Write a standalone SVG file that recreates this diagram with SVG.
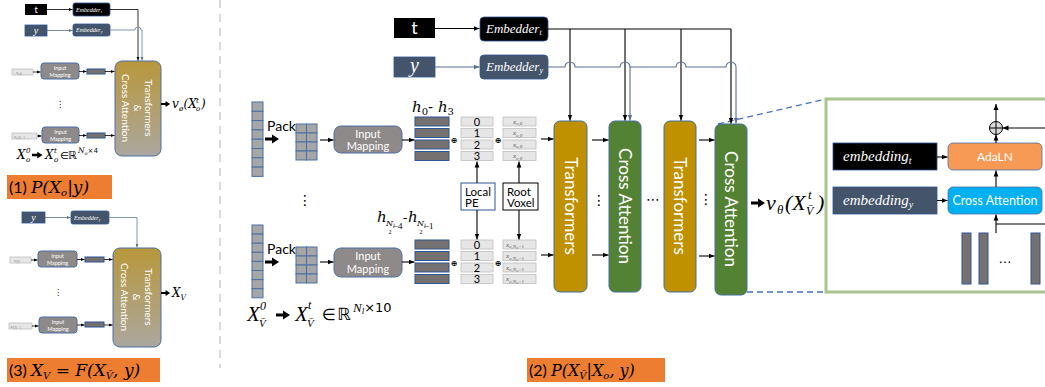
<svg xmlns="http://www.w3.org/2000/svg" xmlns:xlink="http://www.w3.org/1999/xlink" width="1045" height="387" viewBox="0 0 1045 387">
<style>
.sans{font-family:Lato,"Liberation Sans",sans-serif}
.mi{font-family:"Liberation Serif","DejaVu Serif",serif;font-style:italic}
.mw{font-family:"DejaVu Serif","Liberation Serif",serif;font-style:italic}
.mn{font-family:"Liberation Serif","DejaVu Serif",serif}
.mr{font-family:"DejaVu Sans",sans-serif}
.wt{fill:#fff}
.con{fill:none;stroke:#000;stroke-width:1.1}
.conb{fill:none;stroke:#5A6F8F;stroke-width:1.1}
.cons{fill:none;stroke:#000;stroke-width:0.8}
.im{fill:#8F8A8A;stroke:#4A6FA5;stroke-width:1}
.bar{fill:#767171;stroke:#2F5597;stroke-width:1}
.xb{fill:#E7E6E6;stroke:#BFBFBF;stroke-width:0.8}
.cell{fill:#A6A6A6;stroke:#4A6FA5;stroke-width:1}
.blk{stroke:#41719C;stroke-width:1}
.big{fill:url(#gold);stroke:#4A6FA5;stroke-width:1}
.orange{fill:#ED7D31}
.ytile{fill:#44546A;stroke:#2F5597;stroke-width:0.8}
.ttile{fill:#000;stroke:#2F5597;stroke-width:0.8}
</style>
<defs>
<linearGradient id="gold" x1="0" y1="0" x2="0" y2="1">
<stop offset="0" stop-color="#B8973B"/>
<stop offset="1" stop-color="#ABA79F"/>
</linearGradient>
<marker id="ah" viewBox="0 0 10 10" refX="10" refY="5" markerWidth="6" markerHeight="6" markerUnits="userSpaceOnUse" orient="auto"><path d="M0,1 L10,5 L0,9 Z" fill="#000"/></marker>
<marker id="ahb" viewBox="0 0 10 10" refX="10" refY="5" markerWidth="6" markerHeight="6" markerUnits="userSpaceOnUse" orient="auto"><path d="M0,1 L10,5 L0,9 Z" fill="#5A6F8F"/></marker>
<marker id="ahs" viewBox="0 0 10 10" refX="10" refY="5" markerWidth="3.5" markerHeight="3.5" markerUnits="userSpaceOnUse" orient="auto"><path d="M0,1 L10,5 L0,9 Z" fill="#000"/></marker>
<marker id="ahsb" viewBox="0 0 10 10" refX="10" refY="5" markerWidth="3.5" markerHeight="3.5" markerUnits="userSpaceOnUse" orient="auto"><path d="M0,1 L10,5 L0,9 Z" fill="#5A6F8F"/></marker>
<path id="tk" d="M0,-1.6 H7 V-4.5 L14,0 L7,4.5 V1.6 H0 Z" fill="#000"/>
</defs>
<rect width="1045" height="387" fill="#fff"/>

<!-- separator -->
<line x1="220" y1="0" x2="220" y2="368" stroke="#D9D9D9" stroke-width="2" stroke-dasharray="8,6"/>

<!-- ============ PANEL 1 ============ -->
<g id="p1-t"><rect x="25" y="4" width="22" height="11" fill="#000"/><text x="36" y="13" class="sans wt" font-size="9" text-anchor="middle">t</text></g>
<g id="p1-embt"><rect x="73" y="3" width="37" height="13" rx="2" class="ttile"/><text x="76" y="11.5" class="mi wt" font-size="6">Embedder<tspan font-size="4" dy="1">t</tspan></text></g>
<g id="p1-y"><rect x="25" y="25" width="22" height="11" class="ytile"/><text x="36" y="34" class="mi wt" font-size="10" text-anchor="middle">y</text></g>
<g id="p1-emby"><rect x="73" y="24" width="37" height="12" rx="2" class="ytile"/><text x="76" y="32" class="mi wt" font-size="6">Embedder<tspan font-size="4" dy="1">y</tspan></text></g>
<g id="p1-x0"><rect x="12" y="69" width="21" height="6" class="xb"/><text x="16" y="73.5" class="mi" fill="#7F7F7F" font-size="4.5">x<tspan font-size="3" dy="1">o,0</tspan></text></g>
<g id="p1-im0"><rect x="41" y="63" width="38" height="16" rx="3" class="im"/><text x="60" y="70" class="sans wt" font-size="5.5" text-anchor="middle">Input</text><text x="60" y="76.5" class="sans wt" font-size="5.5" text-anchor="middle">Mapping</text></g>
<g id="p1-bar0"><rect x="87" y="69" width="18" height="5" class="bar"/></g>
<g id="p1-xn"><rect x="12" y="133" width="25" height="6" class="xb"/><text x="14" y="137.5" class="mi" fill="#7F7F7F" font-size="4.5">x<tspan font-size="3" dy="1">o,N</tspan><tspan font-size="2.5" dy="0.6">o</tspan><tspan font-size="3" dy="-0.6">−1</tspan></text></g>
<g id="p1-imn"><rect x="42" y="127" width="37" height="16" rx="3" class="im"/><text x="60.5" y="134" class="sans wt" font-size="5.5" text-anchor="middle">Input</text><text x="60.5" y="140.5" class="sans wt" font-size="5.5" text-anchor="middle">Mapping</text></g>
<g id="p1-barn"><rect x="87" y="133" width="18" height="5" class="bar"/></g>
<text x="60" y="107" class="mr" font-size="8" text-anchor="middle">⋮</text>
<g id="p1-big"><rect x="115" y="61" width="46" height="95" rx="7" class="big"/>
<text transform="translate(145,108) rotate(90)" class="sans wt" font-size="10" text-anchor="middle">Transformers</text>
<text transform="translate(133.5,108) rotate(90)" class="sans wt" font-size="10" text-anchor="middle">&amp;</text>
<text transform="translate(121.5,108) rotate(90)" class="sans wt" font-size="10" text-anchor="middle">Cross Attention</text></g>
<use href="#tk" transform="translate(161,104) scale(0.65)"/>
<g id="p1-out">
<text x="172" y="108" class="mw" font-size="12">v</text>
<text x="179" y="110.5" class="mw" font-size="7">ø</text>
<text x="183.5" y="108" class="mw" font-size="12">(X</text>
<text x="196" y="102.5" class="mw" font-size="7">t</text>
<text x="196" y="111" class="mw" font-size="7">o</text>
<text x="201" y="108" class="mw" font-size="12">)</text>
</g>
<!-- formula 1 -->
<g id="p1-formula">
<text x="17" y="158.5" class="mw" font-size="12">X</text>
<text x="26" y="153" class="mw" font-size="7">0</text>
<text x="26" y="161.5" class="mw" font-size="7">o</text>
<use href="#tk" transform="translate(32,155) scale(0.75)"/>
<text x="45" y="158.5" class="mw" font-size="12">X</text>
<text x="54" y="153" class="mw" font-size="7">t</text>
<text x="54" y="161.5" class="mw" font-size="7">o</text>
<text x="60" y="158.5" class="mr" font-size="10">∈</text>
<text x="68" y="158.5" class="mr" font-size="11">ℝ</text>
<text x="78" y="153" class="mw" font-size="7.5">N<tspan font-size="5" dy="1.5">o</tspan><tspan class="mr" font-style="normal" dy="-1.5" font-size="7">×4</tspan></text>
</g>
<g id="p1-label"><rect x="7" y="175" width="105" height="24" class="orange"/>
<text x="9" y="193" class="sans" font-size="16">(1) <tspan class="mw" font-size="17">P(X<tspan font-size="10" dy="3">o</tspan><tspan dy="-3">|y)</tspan></tspan></text></g>

<!-- ============ PANEL 3 ============ -->
<g id="p3-y"><rect x="22" y="212" width="23" height="11" class="ytile"/><text x="33.5" y="221" class="mi wt" font-size="10" text-anchor="middle">y</text></g>
<g id="p3-emby"><rect x="71" y="211" width="38" height="13" rx="2" class="ytile"/><text x="74" y="219.5" class="mi wt" font-size="6">Embedder<tspan font-size="4" dy="1">y</tspan></text></g>
<g id="p3-x0"><rect x="10" y="257" width="21" height="6" class="xb"/><text x="14" y="261.5" class="mi" fill="#7F7F7F" font-size="4.5">x<tspan font-size="3" dy="1">V̄,0</tspan></text></g>
<g id="p3-im0"><rect x="38" y="251" width="39" height="16" rx="3" class="im"/><text x="57.5" y="258" class="sans wt" font-size="5.5" text-anchor="middle">Input</text><text x="57.5" y="264.5" class="sans wt" font-size="5.5" text-anchor="middle">Mapping</text></g>
<g id="p3-bar0"><rect x="85" y="257" width="19" height="5" class="bar"/></g>
<g id="p3-xn"><rect x="9" y="323" width="23" height="6" class="xb"/><text x="10.5" y="327.5" class="mi" fill="#7F7F7F" font-size="4.5">x<tspan font-size="3" dy="1">V̄,N</tspan><tspan font-size="2.5" dy="0.6">l</tspan><tspan font-size="3" dy="-0.6">−1</tspan></text></g>
<g id="p3-imn"><rect x="39" y="317" width="38" height="16" rx="3" class="im"/><text x="58" y="324" class="sans wt" font-size="5.5" text-anchor="middle">Input</text><text x="58" y="330.5" class="sans wt" font-size="5.5" text-anchor="middle">Mapping</text></g>
<g id="p3-barn"><rect x="85" y="322" width="19" height="5" class="bar"/></g>
<text x="58" y="295" class="mr" font-size="8" text-anchor="middle">⋮</text>
<g id="p3-big"><rect x="113" y="248" width="48" height="99" rx="7" class="big"/>
<text transform="translate(144.5,297) rotate(90)" class="sans wt" font-size="10" text-anchor="middle">Transformers</text>
<text transform="translate(133,297) rotate(90)" class="sans wt" font-size="10" text-anchor="middle">&amp;</text>
<text transform="translate(120.5,297) rotate(90)" class="sans wt" font-size="10" text-anchor="middle">Cross Attention</text></g>
<use href="#tk" transform="translate(161,293) scale(0.65)"/>
<text x="172" y="297" class="mw" font-size="12">X<tspan font-size="7.5" dy="2.5">V</tspan></text>
<g id="p3-label"><rect x="7" y="358" width="153" height="24" class="orange"/>
<text x="9" y="376" class="sans" font-size="16">(3) <tspan class="mw" font-size="17">X<tspan font-size="10" dy="3">V</tspan><tspan dy="-3" font-style="normal"> = </tspan>F(X<tspan font-size="10" dy="3">V̄</tspan><tspan dy="-3">, y)</tspan></tspan></text></g>

<!-- ============ PANEL 2 ============ -->
<g id="c-t"><rect x="394" y="18" width="41" height="20" fill="#000"/><text x="414.5" y="34" class="sans wt" font-size="18" text-anchor="middle">t</text></g>
<g id="c-embt"><rect x="480" y="17" width="68" height="24" rx="4" class="ttile"/><text x="486" y="33" class="mi wt" font-size="13">Embedder<tspan font-size="8" dy="2">t</tspan></text></g>
<g id="c-y"><rect x="394" y="57" width="41" height="20" class="ytile"/><text x="414.5" y="72" class="mi wt" font-size="20" text-anchor="middle">y</text></g>
<g id="c-emby"><rect x="480" y="55" width="68" height="24" rx="4" class="ytile"/><text x="486" y="71" class="mi wt" font-size="13">Embedder<tspan font-size="8" dy="2">y</tspan></text></g>

<!-- top pack row -->
<g id="c-col0">
<rect x="252" y="102" width="11" height="9.3" class="cell"/><rect x="252" y="111.3" width="11" height="9.3" class="cell"/><rect x="252" y="120.6" width="11" height="9.3" class="cell"/><rect x="252" y="129.9" width="11" height="9.3" class="cell"/><rect x="252" y="139.2" width="11" height="9.3" class="cell"/><rect x="252" y="148.5" width="11" height="9.3" class="cell"/><rect x="252" y="157.8" width="11" height="9.3" class="cell"/><rect x="252" y="167.1" width="11" height="9.3" class="cell"/>
</g>
<text x="267" y="131" class="sans" font-size="14">Pack</text>
<use href="#tk" x="265" y="139"/>
<g id="c-grid0">
<rect x="296" y="124" width="10.5" height="9" class="cell"/><rect x="306.5" y="124" width="10.5" height="9" class="cell"/>
<rect x="296" y="133" width="10.5" height="9" class="cell"/><rect x="306.5" y="133" width="10.5" height="9" class="cell"/>
<rect x="296" y="142" width="10.5" height="9" class="cell"/><rect x="306.5" y="142" width="10.5" height="9" class="cell"/>
<rect x="296" y="151" width="10.5" height="9" class="cell"/><rect x="306.5" y="151" width="10.5" height="9" class="cell"/>
</g>
<g id="c-im0"><rect x="334" y="126" width="68" height="27" rx="7" class="im"/><text x="368" y="137.5" class="sans wt" font-size="11" text-anchor="middle">Input</text><text x="368" y="149.5" class="sans wt" font-size="11" text-anchor="middle">Mapping</text></g>
<g id="c-h0">
<rect x="415" y="117" width="34" height="9" class="bar"/><rect x="415" y="128.5" width="34" height="9" class="bar"/><rect x="415" y="140" width="34" height="9" class="bar"/><rect x="415" y="151.5" width="34" height="9" class="bar"/>
</g>
<text x="412" y="112" class="mw" font-size="15">h<tspan font-size="10" dy="3" font-style="normal">0</tspan><tspan dy="-3" font-style="normal">- </tspan>h<tspan font-size="10" dy="3" font-style="normal">3</tspan></text>
<text x="454" y="143" class="mr" font-size="8" fill="#000" text-anchor="middle" font-weight="bold">⊕</text>
<g id="c-pe0">
<rect x="461" y="117" width="32" height="9" class="xb"/><rect x="461" y="128.5" width="32" height="9" class="xb"/><rect x="461" y="140" width="32" height="9" class="xb"/><rect x="461" y="151.5" width="32" height="9" class="xb"/>
<text x="477" y="125.5" class="sans" font-size="11" text-anchor="middle">0</text><text x="477" y="137" class="sans" font-size="11" text-anchor="middle">1</text><text x="477" y="148.5" class="sans" font-size="11" text-anchor="middle">2</text><text x="477" y="160" class="sans" font-size="11" text-anchor="middle">3</text>
</g>
<text x="498" y="143" class="mr" font-size="8" fill="#000" text-anchor="middle" font-weight="bold">⊕</text>
<g id="c-x0" class="mi" fill="#595959" font-size="7">
<rect x="503" y="117" width="33" height="9" class="xb"/><rect x="503" y="128.5" width="33" height="9" class="xb"/><rect x="503" y="140" width="33" height="9" class="xb"/><rect x="503" y="151.5" width="33" height="9" class="xb"/>
<text x="513" y="123.5">x<tspan font-size="5" dy="1.5">o,0</tspan></text><text x="513" y="135">x<tspan font-size="5" dy="1.5">o,0</tspan></text><text x="513" y="146.5">x<tspan font-size="5" dy="1.5">o,0</tspan></text><text x="513" y="158">x<tspan font-size="5" dy="1.5">o,0</tspan></text>
</g>

<g id="c-localpe"><rect x="461" y="183" width="34" height="27" fill="#fff" stroke="#2F5597" stroke-width="1"/><text x="465" y="195.5" class="sans" font-size="11.5">Local</text><text x="465" y="207" class="sans" font-size="11.5">PE</text></g>
<g id="c-root"><rect x="503" y="183" width="35" height="27" fill="#fff" stroke="#000" stroke-width="1"/><text x="507" y="195.5" class="sans" font-size="11.5">Root</text><text x="507" y="207" class="sans" font-size="11.5">Voxel</text></g>

<!-- bottom pack row -->
<text x="305" y="205" class="mr" font-size="14" text-anchor="middle">⋮</text>
<g id="c-col1">
<rect x="252" y="225" width="11" height="9.1" class="cell"/><rect x="252" y="234.1" width="11" height="9.1" class="cell"/><rect x="252" y="243.2" width="11" height="9.1" class="cell"/><rect x="252" y="252.3" width="11" height="9.1" class="cell"/><rect x="252" y="261.4" width="11" height="9.1" class="cell"/><rect x="252" y="270.5" width="11" height="9.1" class="cell"/><rect x="252" y="279.6" width="11" height="9.1" class="cell"/><rect x="252" y="288.7" width="11" height="9.1" class="cell"/>
</g>
<text x="267" y="254" class="sans" font-size="14">Pack</text>
<use href="#tk" x="265" y="262"/>
<g id="c-grid1">
<rect x="296" y="247" width="10.5" height="9" class="cell"/><rect x="306.5" y="247" width="10.5" height="9" class="cell"/>
<rect x="296" y="256" width="10.5" height="9" class="cell"/><rect x="306.5" y="256" width="10.5" height="9" class="cell"/>
<rect x="296" y="265" width="10.5" height="9" class="cell"/><rect x="306.5" y="265" width="10.5" height="9" class="cell"/>
<rect x="296" y="274" width="10.5" height="9" class="cell"/><rect x="306.5" y="274" width="10.5" height="9" class="cell"/>
</g>
<g id="c-im1"><rect x="334" y="248" width="68" height="29" rx="7" class="im"/><text x="368" y="260" class="sans wt" font-size="11" text-anchor="middle">Input</text><text x="368" y="272.5" class="sans wt" font-size="11" text-anchor="middle">Mapping</text></g>
<g id="c-h1">
<rect x="415" y="240" width="34" height="9" class="bar"/><rect x="415" y="251.5" width="34" height="9" class="bar"/><rect x="415" y="263" width="34" height="9" class="bar"/><rect x="415" y="274.5" width="34" height="9" class="bar"/>
</g>
<g id="c-hlabel1">
<text x="377" y="222" class="mw" font-size="15">h</text>
<text x="386" y="226" class="mw" font-size="8">N<tspan font-size="5.5" dy="2">l</tspan></text>
<text x="388.5" y="233.5" class="mn" font-size="6">2</text>
<text x="393" y="228.5" class="mn" font-size="9">−4</text>
<text x="403" y="222" class="mn" font-size="13">-</text>
<text x="408" y="222" class="mw" font-size="15">h</text>
<text x="417" y="226" class="mw" font-size="8">N<tspan font-size="5.5" dy="2">l</tspan></text>
<text x="419.5" y="233.5" class="mn" font-size="6">2</text>
<text x="424" y="228.5" class="mn" font-size="9">−1</text>
</g>
<text x="454" y="265.5" class="mr" font-size="8" fill="#000" text-anchor="middle" font-weight="bold">⊕</text>
<g id="c-pe1">
<rect x="461" y="240" width="32" height="9" class="xb"/><rect x="461" y="251.5" width="32" height="9" class="xb"/><rect x="461" y="263" width="32" height="9" class="xb"/><rect x="461" y="274.5" width="32" height="9" class="xb"/>
<text x="477" y="248.5" class="sans" font-size="11" text-anchor="middle">0</text><text x="477" y="260" class="sans" font-size="11" text-anchor="middle">1</text><text x="477" y="271.5" class="sans" font-size="11" text-anchor="middle">2</text><text x="477" y="283" class="sans" font-size="11" text-anchor="middle">3</text>
</g>
<text x="498" y="265.5" class="mr" font-size="8" fill="#000" text-anchor="middle" font-weight="bold">⊕</text>
<g id="c-x1" class="mi" fill="#595959" font-size="7">
<rect x="503" y="240" width="33" height="9" class="xb"/><rect x="503" y="251.5" width="33" height="9" class="xb"/><rect x="503" y="263" width="33" height="9" class="xb"/><rect x="503" y="274.5" width="33" height="9" class="xb"/>
<text x="506" y="246.5">x<tspan font-size="5" dy="1.5">o,N</tspan><tspan font-size="4" dy="1">o</tspan><tspan font-size="5" dy="-1">−1</tspan></text>
<text x="506" y="258">x<tspan font-size="5" dy="1.5">o,N</tspan><tspan font-size="4" dy="1">o</tspan><tspan font-size="5" dy="-1">−1</tspan></text>
<text x="506" y="269.5">x<tspan font-size="5" dy="1.5">o,N</tspan><tspan font-size="4" dy="1">o</tspan><tspan font-size="5" dy="-1">−1</tspan></text>
<text x="506" y="281">x<tspan font-size="5" dy="1.5">o,N</tspan><tspan font-size="4" dy="1">o</tspan><tspan font-size="5" dy="-1">−1</tspan></text>
</g>

<!-- blocks -->
<g id="c-tr1"><rect x="554" y="121" width="33" height="171" rx="6" fill="#BF9000" class="blk"/><text transform="translate(564.5,206) rotate(90)" class="sans wt" font-size="17" text-anchor="middle">Transformers</text></g>
<g id="c-ca1"><rect x="609" y="121" width="32" height="171" rx="6" fill="#548235" class="blk"/><text transform="translate(619,206) rotate(90)" class="sans wt" font-size="17" text-anchor="middle">Cross Attention</text></g>
<g id="c-tr2"><rect x="664" y="121" width="32" height="171" rx="6" fill="#BF9000" class="blk"/><text transform="translate(674,206) rotate(90)" class="sans wt" font-size="17" text-anchor="middle">Transformers</text></g>
<g id="c-ca2"><rect x="715" y="124" width="32" height="171" rx="6" fill="#548235" class="blk"/><text transform="translate(725,209) rotate(90)" class="sans wt" font-size="17" text-anchor="middle">Cross Attention</text></g>
<text x="599" y="205" class="mr" font-size="14" text-anchor="middle">⋮</text>
<text x="653" y="204" class="mr" font-size="14" text-anchor="middle">⋯</text>
<text x="706" y="204" class="mr" font-size="14" text-anchor="middle">⋮</text>

<use href="#tk" x="751" y="203"/>
<g id="c-out">
<text x="766" y="210" class="mi" font-size="22">v</text>
<text x="777" y="214" class="mi" font-size="13">θ</text>
<text x="785" y="210" class="mi" font-size="22">(X</text>
<text x="808" y="199" class="mi" font-size="13">t</text>
<text x="806" y="215" class="mi" font-size="12">V̄</text>
<text x="817" y="210" class="mi" font-size="22">)</text>
</g>

<!-- formula bottom -->
<g id="c-formula">
<text x="247" y="321" class="mi" font-size="21">X</text>
<text x="260" y="310" class="mi" font-size="12" font-style="normal">0</text>
<text x="259" y="327" class="mi" font-size="11">V̄</text>
<use href="#tk" transform="translate(276,315)"/>
<text x="295" y="321" class="mi" font-size="21">X</text>
<text x="308" y="309" class="mi" font-size="12">t</text>
<text x="307" y="327" class="mi" font-size="11">V̄</text>
<text x="322" y="320" class="mr" font-size="16">∈</text>
<text x="337" y="320" class="mr" font-size="17">ℝ</text>
<text x="353" y="312" class="mi" font-size="13">N<tspan font-size="9" dy="2">l</tspan><tspan class="mr" font-style="normal" font-size="13" dy="-2">×10</tspan></text>
</g>
<g id="c-label"><rect x="527" y="358" width="138" height="24" class="orange"/>
<text x="529" y="376" class="sans" font-size="16">(2) <tspan class="mw" font-size="16">P(X<tspan font-size="10" dy="3">V̄</tspan><tspan dy="-3">|X</tspan><tspan font-size="10" dy="3">o</tspan><tspan dy="-3">, y)</tspan></tspan></text></g>

<!-- ============ DETAIL PANEL ============ -->
<g id="zoom-links" fill="none" stroke="#4472C4" stroke-width="1.3" stroke-dasharray="6,4">
<path d="M718,124 L826,99"/>
<path d="M747,292 L826,292"/>
</g>
<g id="d-frame"><rect x="826" y="99" width="230" height="193" fill="#fff" stroke="#A9C48F" stroke-width="3"/></g>
<g id="d-embt"><rect x="833" y="143" width="104" height="27" fill="#000" stroke="#2F5597" stroke-width="0.8"/><text x="843" y="161" class="mi wt" font-size="15">embedding<tspan font-size="10" dy="3">t</tspan></text></g>
<g id="d-emby"><rect x="833" y="187" width="104" height="27" fill="#44546A" stroke="#2F5597" stroke-width="0.8"/><text x="843" y="205" class="mi wt" font-size="15">embedding<tspan font-size="10" dy="3">y</tspan></text></g>
<g id="d-adaln"><rect x="948" y="143" width="94" height="27" rx="5" fill="#F79A55" stroke="#4A6FA5" stroke-width="0.8"/><text x="995" y="161" class="sans wt" font-size="12" text-anchor="middle">AdaLN</text></g>
<g id="d-ca"><rect x="948" y="187" width="94" height="27" rx="5" fill="#00B0F0" stroke="#4A6FA5" stroke-width="0.8"/><text x="995" y="205" class="sans wt" font-size="12.5" text-anchor="middle">Cross Attention</text></g>
<g id="d-plus"><circle cx="996" cy="128" r="6.5" fill="#D9D9D9" stroke="#000" stroke-width="1"/><path d="M989.5,128 H1002.5 M996,121.5 V134.5" stroke="#000" stroke-width="1"/></g>
<g id="d-tokens">
<rect x="962" y="233" width="9" height="51" class="bar"/>
<rect x="979" y="233" width="9" height="51" class="bar"/>
<rect x="1031" y="233" width="9" height="51" class="bar"/>
<text x="1005" y="263" class="mr" font-size="13" text-anchor="middle">…</text>
</g>

<!-- ============ CONNECTORS ============ -->
<g id="connectors">
<path class="cons" d="M47,9.5 H72.5" marker-end="url(#ahs)"/>
<path d="M47,30.5 H72.5" fill="none" stroke="#5A6F8F" stroke-width="0.8" marker-end="url(#ahsb)"/>
<path class="cons" d="M110,9.5 H138 V60.5" marker-end="url(#ahs)"/>
<path d="M110,30 H135 A3,3 0 0 1 141,30 H142 V60.5" fill="none" stroke="#8497B0" stroke-width="1" marker-end="url(#ahsb)"/>
<path class="cons" d="M33,72 H40.5" marker-end="url(#ahs)"/>
<path class="cons" d="M79,71.5 H86.5" marker-end="url(#ahs)"/>
<path class="cons" d="M105,71.5 H114.5" marker-end="url(#ahs)"/>
<path class="cons" d="M37,136 H41.5" marker-end="url(#ahs)"/>
<path class="cons" d="M79,135.5 H86.5" marker-end="url(#ahs)"/>
<path class="cons" d="M105,135.5 H114.5" marker-end="url(#ahs)"/>
<path d="M45,217.5 H70.5" fill="none" stroke="#5A6F8F" stroke-width="0.8" marker-end="url(#ahsb)"/>
<path d="M109,217.5 H137 V247.5" fill="none" stroke="#8497B0" stroke-width="1" marker-end="url(#ahsb)"/>
<path class="cons" d="M31,260 H37.5" marker-end="url(#ahs)"/>
<path class="cons" d="M77,259.5 H84.5" marker-end="url(#ahs)"/>
<path class="cons" d="M104,259.5 H112.5" marker-end="url(#ahs)"/>
<path class="cons" d="M32,326 H38.5" marker-end="url(#ahs)"/>
<path class="cons" d="M77,325 H84.5" marker-end="url(#ahs)"/>
<path class="cons" d="M104,325 H112.5" marker-end="url(#ahs)"/>
<path class="con" d="M435,28.5 H479.5" marker-end="url(#ah)"/>
<path class="conb" d="M435,67 H479.5" marker-end="url(#ahb)"/>
<path class="con" d="M548,29 H731"/>
<path class="con" d="M570,29 V120.5" marker-end="url(#ah)"/>
<path class="con" d="M625,29 V120.5" marker-end="url(#ah)"/>
<path class="con" d="M681,29 V120.5" marker-end="url(#ah)"/>
<path class="con" d="M731,29 V123.5" marker-end="url(#ah)"/>
<path class="conb" d="M548,67 H565 A5,5 0 0 1 575,67 H620 A5,5 0 0 1 630,67 H676 A5,5 0 0 1 686,67 H726 A5,5 0 0 1 736,67 V123.5" marker-end="url(#ahb)"/>
<path class="conb" d="M630,67 V120.5" marker-end="url(#ahb)"/>
<path class="con" d="M320,140 H333.5" marker-end="url(#ah)"/>
<path class="con" d="M402,140 H414.5" marker-end="url(#ah)"/>
<path class="con" d="M320,262 H333.5" marker-end="url(#ah)"/>
<path class="con" d="M402,262 H414.5" marker-end="url(#ah)"/>
<path class="con" d="M477,183 V161.5" marker-end="url(#ah)"/>
<path class="con" d="M519,183 V161.5" marker-end="url(#ah)"/>
<path class="con" d="M477,210 V239.5" marker-end="url(#ah)"/>
<path class="con" d="M519,210 V239.5" marker-end="url(#ah)"/>
<path class="con" d="M541,139 H553.5" marker-end="url(#ah)"/>
<path class="con" d="M541,255 H553.5" marker-end="url(#ah)"/>
<path class="con" d="M592,140 H608.5" marker-end="url(#ah)"/>
<path class="con" d="M592,255 H608.5" marker-end="url(#ah)"/>
<path class="con" d="M699,140 H714.5" marker-end="url(#ah)"/>
<path class="con" d="M699,256 H714.5" marker-end="url(#ah)"/>
<path class="con" d="M937,157 H947.5" marker-end="url(#ah)"/>
<path class="con" d="M937,200.5 H947.5" marker-end="url(#ah)"/>
<path class="con" d="M996,187 V170.5" marker-end="url(#ah)"/>
<path class="con" d="M996,143 V134.5" marker-end="url(#ah)"/>
<path class="con" d="M996,121.5 V104" marker-end="url(#ah)"/>
<path class="con" d="M1045,128 H1002.5" marker-end="url(#ah)"/>
<path class="con" d="M996,233 V214.5" marker-end="url(#ah)"/>
<path class="con" d="M996,224 H1045"/>
</g>
</svg>
